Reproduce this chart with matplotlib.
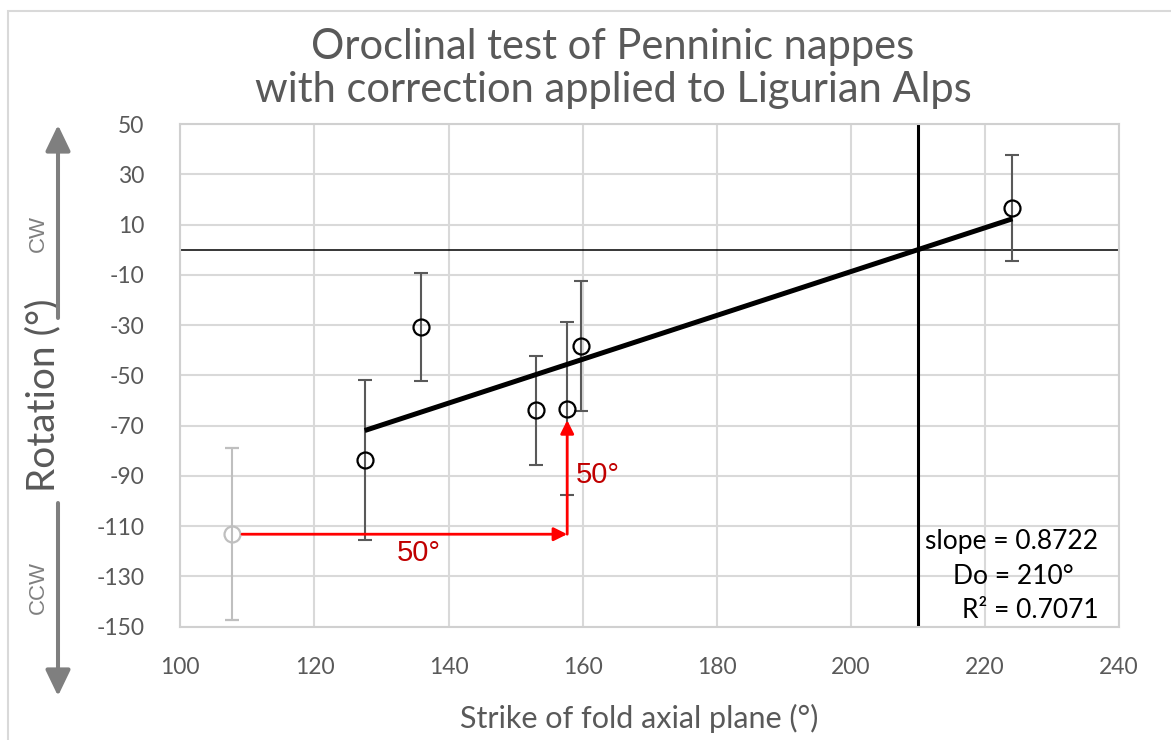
import matplotlib.pyplot as plt
from matplotlib.patches import FancyArrowPatch, Rectangle

# Penninic nappes: strike of fold axial plane vs rotation
strike = [127.5, 135.9, 153.0, 157.7, 159.8, 224.1]
rotation = [-83.7, -30.8, -63.8, -63.2, -38.3, 16.5]
rot_err = [32.0, 21.5, 21.7, 34.3, 26.0, 21.1]

# Ligurian Alps before correction
lig_strike = [107.7]
lig_rotation = [-113.2]
lig_err = [34.3]

# Oroclinal fit
slope = 0.8722
d0 = 210
r2 = 0.7071
shift = 50

xticks = list(range(100, 241, 20))
yticks = list(range(-150, 51, 20))

plt.rcParams['font.family'] = ['Lato', 'DejaVu Sans']
plt.rcParams['axes.unicode_minus'] = False
grey_txt = '#595959'

fig = plt.figure(figsize=(11.71, 7.40), dpi=100)
ax = fig.add_axes([0.154, 0.1531, 0.8016, 0.6793])

ax.set_xlim(100, 240)
ax.set_ylim(-150, 50)
ax.set_xticks(xticks)
ax.set_yticks(yticks)
ax.grid(True, color='#d9d9d9', linewidth=1.5, zorder=0)
ax.set_axisbelow(True)
for s in ax.spines.values():
    s.set_color('#d0d0d0')
    s.set_linewidth(1.5)
ax.tick_params(length=0, labelsize=16.5, labelcolor=grey_txt)
ax.tick_params(axis='x', pad=22)
ax.tick_params(axis='y', pad=26)

# reference lines
ax.axhline(0, color='black', linewidth=1.1, zorder=2)
ax.axvline(d0, color='black', linewidth=2.2, zorder=2)

# error bars + points
ax.errorbar(lig_strike, lig_rotation, yerr=lig_err, fmt='o', ms=11.5, mfc='none',
            mec='#bfbfbf', mew=1.6, ecolor='#bfbfbf', elinewidth=1.5,
            capsize=4.7, capthick=1.5, zorder=3)
ax.errorbar(strike, rotation, yerr=rot_err, fmt='none', ecolor=grey_txt,
            elinewidth=1.5, capsize=4.7, capthick=1.5, zorder=3)

# fitted line
x0, x1 = min(strike), max(strike)
ax.plot([x0, x1], [slope * (x0 - d0), slope * (x1 - d0)], color='black',
        linewidth=3.6, solid_capstyle='butt', zorder=4)

ax.plot(strike, rotation, 'o', ms=11.5, mfc='none', mec='black', mew=1.6, zorder=5)

# correction arrows
red = '#ff0000'
ax.add_patch(FancyArrowPatch((lig_strike[0] + 1.5, lig_rotation[0]),
                             (lig_strike[0] + shift, lig_rotation[0]),
                             arrowstyle='-|>,head_length=8,head_width=4',
                             color=red, linewidth=2, shrinkA=0, shrinkB=0,
                             mutation_scale=1, zorder=6))
ax.add_patch(FancyArrowPatch((lig_strike[0] + shift, lig_rotation[0]),
                             (lig_strike[0] + shift, lig_rotation[0] + shift - 4.6),
                             arrowstyle='-|>,head_length=8,head_width=4',
                             color=red, linewidth=2, shrinkA=0, shrinkB=0,
                             mutation_scale=1, zorder=6))
ax.text(135.6, -120.6, f'{shift}°', color='#c00000', fontsize=21,
        family='Liberation Sans', ha='center', va='center', zorder=7)
ax.text(162.3, -89.6, f'{shift}°', color='#c00000', fontsize=21,
        family='Liberation Sans', ha='center', va='center', zorder=7)

# fit statistics
ax.text(236.9, -116.2, f'slope = {slope}', fontsize=19, ha='right', va='center', zorder=7)
ax.text(224.2, -130.1, f'Do = {d0}°', fontsize=19, ha='center', va='center', zorder=7)
ax.text(237.0, -143.4, f'R² = {r2}', fontsize=19, ha='right', va='center', zorder=7)

# titles and labels
fig.text(0.5235, 0.9365, 'Oroclinal test of Penninic nappes', fontsize=30,
         color=grey_txt, ha='center', va='center')
fig.text(0.5235, 0.878, 'with correction applied to Ligurian Alps', fontsize=30,
         color=grey_txt, ha='center', va='center')
ax.set_xlabel('Strike of fold axial plane (°)', fontsize=22, color=grey_txt, va='center')
ax.xaxis.set_label_coords(0.4887, -0.1816)
ax.set_ylabel('Rotation (°)', fontsize=28, color=grey_txt, va='center')
ax.yaxis.set_label_coords(-0.1463, 0.461)

# CW / CCW arrows on the left
arrow_grey = '#7f7f7f'
W, H = 1171, 740
fig.add_artist(FancyArrowPatch((58 / W, 1 - 318 / H), (58 / W, 1 - 125 / H),
                               transform=fig.transFigure,
                               arrowstyle='-|>,head_length=15.8,head_width=7.6',
                               mutation_scale=1, color=arrow_grey, linewidth=2.9,
                               shrinkA=0, shrinkB=0))
fig.add_artist(FancyArrowPatch((58 / W, 1 - 503 / H), (58 / W, 1 - 696 / H),
                               transform=fig.transFigure,
                               arrowstyle='-|>,head_length=15.8,head_width=7.6',
                               mutation_scale=1, color=arrow_grey, linewidth=2.9,
                               shrinkA=0, shrinkB=0))
fig.text(38 / W, 1 - 233 / H, 'CW', rotation=90, fontsize=16, color=arrow_grey,
         family='Liberation Sans', ha='center', va='center')
fig.text(38 / W, 1 - 587 / H, 'CCW', rotation=90, fontsize=16, color=arrow_grey,
         family='Liberation Sans', ha='center', va='center')

# outer chart frame
fig.add_artist(Rectangle((8 / W, -0.1), 2, 1 - 11 / H + 0.1, transform=fig.transFigure,
                         fill=False, edgecolor='#d9d9d9', linewidth=1.5))

fig.savefig('out.png', dpi=100)
